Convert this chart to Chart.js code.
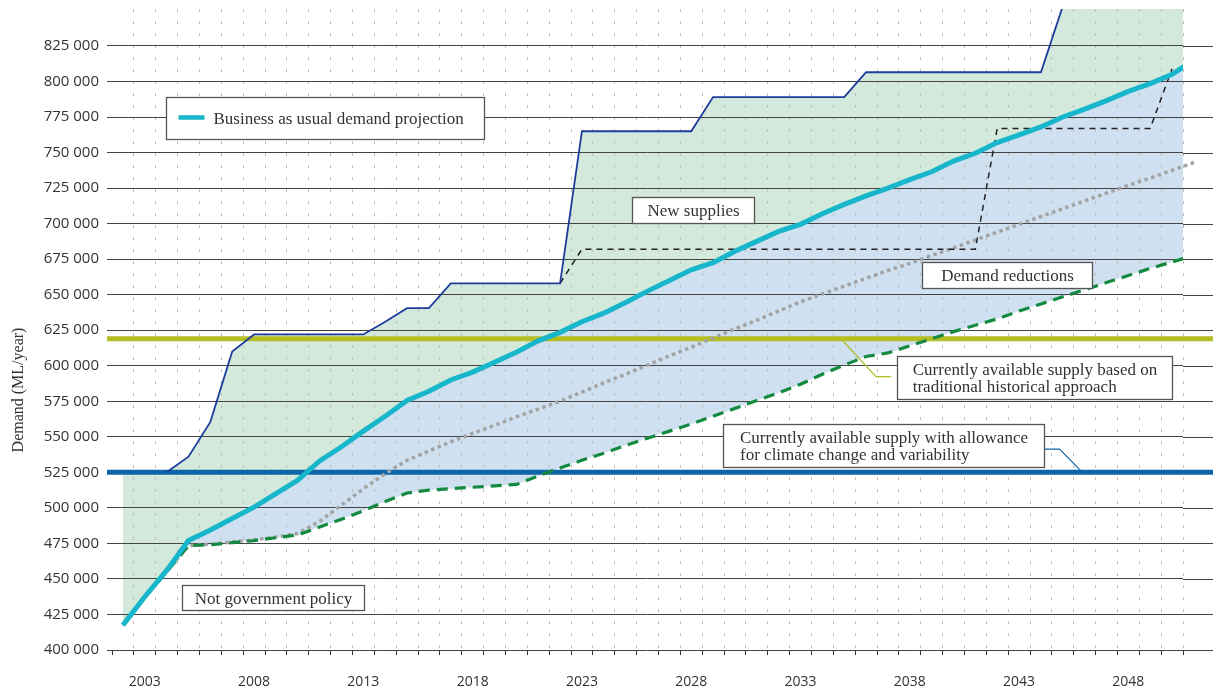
<!DOCTYPE html>
<html>
<head>
<meta charset="utf-8">
<script src="https://cdn.jsdelivr.net/npm/chart.js@4"></script>
<style>
  html, body { margin: 0; padding: 0; background: #fff; }
</style>
</head>
<body>
<canvas id="demandChart" width="1213" height="690"></canvas>
<script>
// years on the horizontal axis (one value per year)
const years = [2002, 2003, 2004, 2005, 2006, 2007, 2008, 2009, 2010, 2011,
               2012, 2013, 2014, 2015, 2016, 2017, 2018, 2019, 2020, 2021,
               2022, 2023, 2024, 2025, 2026, 2027, 2028, 2029, 2030, 2031,
               2032, 2033, 2034, 2035, 2036, 2037, 2038, 2039, 2040, 2041,
               2042, 2043, 2044, 2045, 2046, 2047, 2048, 2049, 2050, 2051];
const labelYears = [2003, 2008, 2013, 2018, 2023, 2028, 2033, 2038, 2043, 2048];
const demandTicks = [400000, 425000, 450000, 475000, 500000, 525000, 550000, 575000, 600000,
                     625000, 650000, 675000, 700000, 725000, 750000, 775000, 800000, 825000];

// Business as usual demand projection (ML/year)
const businessAsUsual = [417500, 437500, 456000, 477000, 484500, 492500, 500500, 510000, 519500, 533000,
                         543000, 554000, 564500, 575500, 582000, 590000, 595500, 602500, 609500, 617500,
                         623500, 631000, 637000, 644500, 652500, 660000, 667500, 672500, 680500, 687500,
                         694500, 699500, 707000, 713500, 719500, 725000, 731000, 736500, 744000, 749500,
                         757000, 762500, 768000, 775000, 780500, 786500, 793000, 798500, 805000, 815000];
// supply including new supplies (upper edge of the green area, stepped line from 2004)
const supplyWithNew = [525000, 525000, 525000, 536000, 560500, 610000, 622000, 622000, 622000, 622000,
                       622000, 622000, 631000, 640500, 640500, 658000, 658000, 658000, 658000, 658000,
                       658000, 765000, 765000, 765000, 765000, 765000, 765000, 789000, 789000, 789000,
                       789000, 789000, 789000, 789000, 806500, 806500, 806500, 806500, 806500, 806500,
                       806500, 806500, 806500, 853000, 900000, 900000, 900000, 900000, 900000, 900000];
const supplyLineStart = 2004;
// supply needed once demand reductions apply (black dashed)
const supplyReduced = [null, null, null, null, null, null, null, null, null, null,
                       null, null, null, null, null, null, null, null, null, null,
                       658000, 682000, 682000, 682000, 682000, 682000, 682000, 682000, 682000, 682000,
                       682000, 682000, 682000, 682000, 682000, 682000, 682000, 682000, 682000, 682000,
                       767000, 767000, 767000, 767000, 767000, 767000, 767000, 767000, 809000, null];
// demand after reductions (green dashed)
const demandReduced = [417500, 437000, 455000, 473500, 474000, 475500, 477000, 479000, 481000, 486500,
                       492000, 498000, 504500, 510500, 512500, 513500, 514500, 515500, 516500, 522500,
                       528000, 533500, 538500, 544000, 549000, 554000, 559000, 564500, 570000, 575500,
                       581000, 587000, 594000, 600500, 606500, 609000, 614000, 619000, 624000, 628500,
                       633000, 638500, 643500, 648500, 653500, 658500, 663500, 668500, 673000, 677500];
// demand reduction target (grey dotted)
const demandTarget = [417500, 437000, 455000, 473500, 474500, 476000, 477500, 479500, 482000, 490500,
                      502000, 513500, 524000, 533500, 540000, 546500, 552500, 558000, 564000, 569500,
                      575000, 581500, 588000, 594000, 600500, 607000, 613000, 619500, 626000, 632000,
                      638500, 645000, 650500, 656000, 661500, 667000, 672000, 677500, 683000, 688500,
                      694000, 699500, 705000, 710500, 716000, 721500, 727000, 732000, 737500, 743000];
const traditionalSupply = 619000;
const climateSupply = 525000;

const CYAN = '#17b6ca';
const NAVY = '#1d3d9b';
const GREEN = '#138a3f';
const OLIVE = '#b4bd22';
const BLUE = '#0d64a8';
const GREEN_FILL = '#d3e9dc';
const BLUE_FILL = '#cfe0f1';

const fmt = v => String(v).replace(/\B(?=(\d{3})+(?!\d))/g, ' ');
const pts = arr => years.map((yr, i) => ({ x: yr, y: arr[i] }));
const flat = v => [{ x: years[0] - 1, y: v }, { x: years[years.length - 1] + 1, y: v }];

const X_MIN = years[0] - 0.5, X_MAX = 2050.5;
const AXIS_W = 112, PAD_RIGHT = 30, PAD_TOP = 9, XAXIS_H = 40;
const halfYearPx = (1213 - AXIS_W - PAD_RIGHT) / (X_MAX - X_MIN) / 2;
const yearEdges = [];
for (let v = X_MIN; v <= X_MAX; v++) yearEdges.push(v);

const notes = [
  { lines: ['Business as usual demand projection'], at: [2003.95, 789000], size: [318, 42], swatch: CYAN },
  { lines: ['New supplies'], at: [2025.3, 718700], size: [122, 26] },
  { lines: ['Demand reductions'], at: [2038.55, 673000], size: [170, 26] },
  { lines: ['Currently available supply based on', 'traditional historical approach'], at: [2037.4, 607000], size: [275, 43],
    leader: { color: OLIVE, path: [[2034.85, 619000], [2036.45, 592300], [2037.15, 592300]] } },
  { lines: ['Currently available supply with allowance', 'for climate change and variability'], at: [2029.45, 559000], size: [321, 43],
    leader: { color: BLUE, path: [[2044.1, 541400], [2044.85, 541400], [2045.9, 525000]] } },
  { lines: ['Not government policy'], at: [2004.7, 445700], size: [182, 25] }
];

const gridExtend = {
  id: 'gridExtend',
  beforeDatasetsDraw(chart) {
    const { ctx, chartArea, scales: { y } } = chart;
    ctx.save();
    ctx.strokeStyle = '#444';
    ctx.lineWidth = 1;
    y.ticks.forEach(t => {
      const py = Math.round(y.getPixelForValue(t.value)) + 0.5;
      ctx.beginPath();
      ctx.moveTo(chartArea.right, py);
      ctx.lineTo(chart.width, py);
      ctx.stroke();
    });
    ctx.restore();
  }
};

const yTitle = {
  id: 'yTitle',
  afterDraw(chart) {
    const ctx = chart.ctx;
    ctx.save();
    ctx.translate(18.5, 390);
    ctx.rotate(-Math.PI / 2);
    ctx.font = '16px "Liberation Serif"';
    ctx.fillStyle = '#333';
    ctx.textAlign = 'center';
    ctx.textBaseline = 'middle';
    ctx.fillText('Demand (ML/year)', 0, 0);
    ctx.restore();
  }
};

const noteBoxes = {
  id: 'noteBoxes',
  afterDatasetsDraw(chart) {
    const { ctx, scales: { x, y } } = chart;
    ctx.save();
    notes.forEach(n => {
      if (n.leader) {
        ctx.strokeStyle = n.leader.color;
        ctx.lineWidth = 1.2;
        ctx.beginPath();
        n.leader.path.forEach((p, i) => {
          const px = x.getPixelForValue(p[0]), py = y.getPixelForValue(p[1]);
          if (i === 0) ctx.moveTo(px, py); else ctx.lineTo(px, py);
        });
        ctx.stroke();
      }
      const left = Math.round(x.getPixelForValue(n.at[0])) + 0.5;
      const top = Math.round(y.getPixelForValue(n.at[1])) + 0.5;
      const [w, h] = n.size;
      ctx.fillStyle = '#fff';
      ctx.fillRect(left, top, w, h);
      ctx.strokeStyle = '#555';
      ctx.lineWidth = 1.3;
      ctx.strokeRect(left, top, w, h);
      ctx.font = '17px "Liberation Serif"';
      ctx.fillStyle = '#333';
      ctx.textBaseline = 'alphabetic';
      const cy = top + h / 2;
      if (n.swatch) {
        ctx.strokeStyle = n.swatch;
        ctx.lineWidth = 4.5;
        ctx.beginPath();
        ctx.moveTo(left + 12, cy - 1);
        ctx.lineTo(left + 38, cy - 1);
        ctx.stroke();
        ctx.textAlign = 'left';
        ctx.fillText(n.lines[0], left + 47, cy + 5.5);
      } else if (n.lines.length === 1) {
        ctx.textAlign = 'center';
        ctx.fillText(n.lines[0], left + w / 2, cy + 5.5);
      } else {
        const widest = Math.max(...n.lines.map(l => ctx.measureText(l).width));
        const tx = left + (w - widest) / 2;
        ctx.textAlign = 'left';
        n.lines.forEach((l, i) => {
          ctx.fillText(l, tx, cy + (i - (n.lines.length - 1) / 2) * 17 + 5.5);
        });
      }
    });
    ctx.restore();
  }
};

const lineClip = { left: 5, top: 0, right: PAD_RIGHT, bottom: 0 };

new Chart(document.getElementById('demandChart'), {
  type: 'line',
  data: {
    datasets: [
      // 0: green area between the supply with new supplies and the business-as-usual demand
      { label: 'New supplies', data: pts(supplyWithNew), borderWidth: 0, borderColor: 'rgba(0,0,0,0)',
        fill: { target: 1 }, backgroundColor: GREEN_FILL, order: 9 },
      // 1: business as usual, blue area down to the reduced demand
      { label: 'Business as usual demand projection', data: pts(businessAsUsual), borderColor: CYAN, borderWidth: 5,
        fill: { target: 3 }, backgroundColor: BLUE_FILL, order: 0 },
      { label: 'Supply with demand reductions', data: pts(supplyReduced), borderColor: '#222', borderWidth: 1.5,
        borderDash: [6, 5], fill: false, order: 2 },
      { label: 'Demand with reductions', data: pts(demandReduced), borderColor: GREEN, borderWidth: 3.2,
        borderDash: [11, 7], fill: false, order: 3 },
      { label: 'Demand reduction target', data: pts(demandTarget), borderColor: '#a3a3a3', borderWidth: 3.5,
        borderDash: [3.5, 3.5], fill: false, order: 4, clip: { left: 0, top: 0, right: PAD_RIGHT, bottom: 0 } },
      { label: 'Currently available supply based on traditional historical approach', data: flat(traditionalSupply),
        borderColor: OLIVE, borderWidth: 5, fill: false, order: 5, clip: lineClip },
      { label: 'Currently available supply with allowance for climate change and variability', data: flat(climateSupply),
        borderColor: BLUE, borderWidth: 5, fill: false, order: 6, clip: lineClip },
      { label: 'Supply with new supplies', data: pts(supplyWithNew).filter(p => p.x >= supplyLineStart),
        borderColor: NAVY, borderWidth: 1.8, fill: false, order: 1 }
    ]
  },
  options: {
    responsive: false,
    animation: false,
    layout: { padding: { top: PAD_TOP, right: PAD_RIGHT, left: 0, bottom: 0 } },
    elements: { point: { radius: 0 }, line: { tension: 0, borderCapStyle: 'butt' } },
    plugins: {
      legend: { display: false },
      tooltip: { enabled: false },
      filler: { drawTime: 'beforeDraw' }
    },
    scales: {
      x: {
        type: 'linear',
        min: X_MIN,
        max: X_MAX,
        afterBuildTicks: s => { s.ticks = yearEdges.map(v => ({ value: v })); },
        afterFit: s => { s.height = XAXIS_H; s.paddingLeft = 0; s.paddingRight = 0; },
        border: { display: false, dash: [3, 9] },
        grid: {
          color: c => c.index === 0 ? 'rgba(0,0,0,0)' : '#bdbdbd',
          lineWidth: 1,
          tickLength: 5,
          tickColor: '#333',
          tickWidth: 1,
          tickBorderDash: []
        },
        ticks: {
          autoSkip: false,
          maxRotation: 0,
          labelOffset: halfYearPx,
          padding: 19,
          color: '#333',
          font: { family: '"Open Sans"', size: 14 },
          callback: v => labelYears.includes(v + 0.5) ? String(v + 0.5) : ''
        }
      },
      y: {
        min: 400000,
        max: 851000,
        afterBuildTicks: s => { s.ticks = demandTicks.map(v => ({ value: v })); },
        afterFit: s => { s.width = AXIS_W; s.paddingTop = 0; s.paddingBottom = 0; },
        border: { display: false },
        grid: { color: '#444', lineWidth: 1, tickLength: 5, tickColor: '#444' },
        ticks: {
          padding: 8,
          color: '#333',
          font: { family: '"Open Sans"', size: 15 },
          callback: v => fmt(v)
        }
      }
    }
  },
  plugins: [gridExtend, noteBoxes, yTitle]
});
</script>
</body>
</html>
